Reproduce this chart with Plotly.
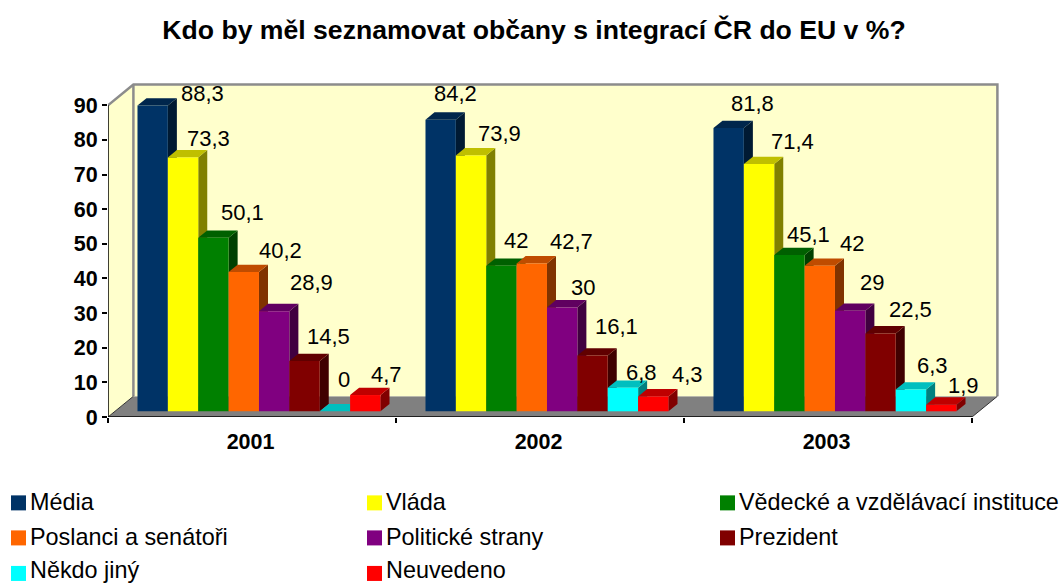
import plotly.graph_objects as go

# ---------- data ----------
TITLE = "Kdo by měl seznamovat občany s integrací ČR do EU v %?"
YEARS = ["2001", "2002", "2003"]
SERIES = ["Média", "Vláda", "Vědecké a vzdělávací instituce", "Poslanci a senátoři",
          "Politické strany", "Prezident", "Někdo jiný", "Neuvedeno"]
MEDIA = [88.3, 84.2, 81.8]
VLADA = [73.3, 73.9, 71.4]
VEDECKE = [50.1, 42, 45.1]
POSLANCI = [40.2, 42.7, 42]
STRANY = [28.9, 30, 29]
PREZIDENT = [14.5, 16.1, 22.5]
NEKDO = [0, 6.8, 6.3]
NEUVEDENO = [4.7, 4.3, 1.9]
VALUES = [MEDIA, VLADA, VEDECKE, POSLANCI, STRANY, PREZIDENT, NEKDO, NEUVEDENO]
Y_TICKS = [0, 10, 20, 30, 40, 50, 60, 70, 80, 90]

# ---------- style ----------
COLORS = ["#003366", "#FFFF00", "#008000", "#FF6600", "#800080", "#800000", "#00FFFF", "#FF0000"]
WALL = "#FFFFCC"
FLOOR = "#808080"
FONT = "Liberation Sans"

# label offsets from bar-top centre, px (per series, per year)
LABEL_DX = [[50, 15, 24], [25, 28, 33], [29.5, 14.5, 19.5], [37, 40, 32],
            [37, 21, 22], [24, 24, 30], [9, 19, 22], [21.5, 34.5, 22.5]]
LABEL_DY = [[12.5, 26, 25], [19, 22, 23], [25, 25, 21], [22, 22, 22],
            [29, 20, 28], [25, 29, 24], [32, 15.5, 24], [21, 22, 19]]

# plot geometry, px
W, H = 1062, 583
LEFT, RIGHT_EDGE, TOP_EDGE, ZERO_Y = 108, 1000, 80, 416.7
PX_X, PX_Y = 288.0, 3.46          # px per category, px per value unit
DEPTH_X = 25.4 / PX_X             # chart depth in data units
DEPTH_Y = 20.7 / PX_Y
BAR_FRONT, BAR_BACK = 0.275, 0.63 # depth fractions of the bar block
GAP = 45 / PX_X
YMAX_AXIS = 90
x_range = [0, (RIGHT_EDGE - LEFT) / PX_X]
y_range = [0, (ZERO_Y - TOP_EDGE) / PX_Y]
n_cat, n_ser = len(YEARS), len(SERIES)


def shade(hex_color, k):
    r, g, b = (int(hex_color[i:i + 2], 16) for i in (1, 3, 5))
    return f"rgb({round(r * k)},{round(g * k)},{round(b * k)})"


def project(x, y, d):
    return x + d * DEPTH_X, y + d * DEPTH_Y


def poly(points, color):
    xs = [p[0] for p in points] + [points[0][0]]
    ys = [p[1] for p in points] + [points[0][1]]
    return go.Scatter(x=xs, y=ys, mode="lines", fill="toself", fillcolor=color,
                      line=dict(width=0, color=color), hoverinfo="skip",
                      showlegend=False, cliponaxis=False)


def stroke(points, color, width):
    return go.Scatter(x=[p[0] for p in points], y=[p[1] for p in points], mode="lines",
                      line=dict(width=width, color=color), hoverinfo="skip",
                      showlegend=False, cliponaxis=False)


fig = go.Figure()

# walls and floor
fig.add_trace(poly([project(0, 0, 0), project(n_cat, 0, 0), project(n_cat, 0, 1), project(0, 0, 1)], FLOOR))
fig.add_trace(poly([project(0, 0, 0), project(0, 0, 1), project(0, YMAX_AXIS, 1), project(0, YMAX_AXIS, 0)], WALL))
fig.add_trace(poly([project(0, 0, 1), project(n_cat, 0, 1), project(n_cat, YMAX_AXIS, 1), project(0, YMAX_AXIS, 1)], WALL))
fig.add_trace(stroke([project(0, YMAX_AXIS, 0), project(0, YMAX_AXIS, 1), project(n_cat, YMAX_AXIS, 1),
                      project(n_cat, 0, 1)], "#8C8C8C", 2.5))
fig.add_trace(stroke([project(0, 0, 1), project(0, YMAX_AXIS, 1)], "#8C8C8C", 2.5))
fig.add_trace(stroke([project(0, 0, 0), project(0, 0, 1)], "#333333", 1))
fig.add_trace(stroke([project(n_cat, 0, 0), project(n_cat, 0, 1)], "#333333", 1))

# axis lines
fig.add_trace(stroke([(0, YMAX_AXIS), (0, 0), (n_cat, 0)], "black", 1.5))

bar_w = (1 - GAP) / n_ser
base = BAR_FRONT * 20.7 / PX_Y
centre_shift = BAR_FRONT * DEPTH_X

annotations = []
# side and top faces, painted left to right
for g in range(n_cat):
    for s in range(n_ser):
        v = VALUES[s][g]
        cx = g + 0.5 + centre_shift + (s - (n_ser - 1) / 2) * bar_w
        x0, x1 = cx - bar_w / 2, cx + bar_w / 2
        top = base + v
        dd = BAR_BACK - BAR_FRONT
        fig.add_trace(poly([(x1, base), project(x1, base, dd), project(x1, top, dd), (x1, top)],
                           shade(COLORS[s], 0.5)))
        fig.add_trace(poly([(x0, top), (x1, top), project(x1, top, dd), project(x0, top, dd)],
                           shade(COLORS[s], 0.75)))
        text = str(v).replace(".", ",")
        annotations.append(dict(x=cx, y=top, xref="x", yref="y", text=text, showarrow=False,
                                xanchor="center", yanchor="middle",
                                xshift=LABEL_DX[s][g], yshift=LABEL_DY[s][g],
                                font=dict(family=FONT, size=22, color="black")))

# front faces: real bars on an overlaid subplot so they sit above the side faces
for s in range(n_ser):
    fig.add_trace(go.Bar(x=[g + 0.5 + centre_shift for g in range(n_cat)], y=VALUES[s], base=base,
                         name=SERIES[s], marker=dict(color=COLORS[s], line=dict(width=0)),
                         xaxis="x2", yaxis="y2", showlegend=False))

# legend, three columns
LEG_COLS = [11, 367, 720]
LEG_ROWS = [502.5, 537.5, 573]
LEG_TEXT_ROWS = [501.5, 536.5, 569.5]
shapes = []
for s in range(n_ser):
    col, row = s % 3, s // 3
    lx, ly = LEG_COLS[col], LEG_ROWS[row]
    shapes.append(dict(type="rect", xref="paper", yref="paper", layer="above",
                       x0=(lx - LEFT) / (RIGHT_EDGE - LEFT), x1=(lx + 15 - LEFT) / (RIGHT_EDGE - LEFT),
                       y0=(ZERO_Y - (ly + 7.5)) / (ZERO_Y - TOP_EDGE), y1=(ZERO_Y - (ly - 7.5)) / (ZERO_Y - TOP_EDGE),
                       fillcolor=COLORS[s], line=dict(width=0)))
    annotations.append(dict(x=(lx + 19 - LEFT) / (RIGHT_EDGE - LEFT),
                            y=(ZERO_Y - LEG_TEXT_ROWS[row]) / (ZERO_Y - TOP_EDGE),
                            xref="paper", yref="paper", text=SERIES[s], showarrow=False,
                            xanchor="left", yanchor="middle", borderpad=0, borderwidth=0,
                            font=dict(family=FONT, size=23.4, color="black")))

fig.update_layout(
    width=W, height=H, autosize=False,
    margin=dict(l=LEFT, r=W - RIGHT_EDGE, t=TOP_EDGE, b=H - ZERO_Y, pad=0),
    paper_bgcolor="white", plot_bgcolor="rgba(0,0,0,0)",
    barmode="group", bargap=GAP, bargroupgap=0, showlegend=False,
    title=dict(text="<b>" + TITLE + "</b>", x=534 / W, y=1 - 30 / H, xanchor="center", yanchor="middle",
               font=dict(family=FONT, size=26.6, color="black")),
    xaxis=dict(range=x_range, tickmode="array", tickvals=[g + 0.495 for g in range(n_cat)],
               ticktext=["<b>" + y + "</b>" for y in YEARS], ticks="", showgrid=False, zeroline=False,
               showline=False, ticklabelstandoff=9,
               tickfont=dict(family=FONT, size=21.5, color="black"),
               minor=dict(tickmode="array", tickvals=list(range(n_cat + 1)), ticks="outside",
                          ticklen=5, tickwidth=1.5, tickcolor="black", showgrid=False)),
    yaxis=dict(range=y_range, tickmode="array", tickvals=Y_TICKS,
               ticktext=["<b>" + str(t) + "</b>" for t in Y_TICKS], ticks="outside", ticklen=5, tickwidth=1.5,
               tickcolor="black", showgrid=False, zeroline=False, showline=False,
               tickfont=dict(family=FONT, size=21.5, color="black")),
    xaxis2=dict(range=x_range, overlaying="x", visible=False),
    yaxis2=dict(range=y_range, overlaying="y", visible=False),
    annotations=annotations, shapes=shapes,
)

fig.write_html("out.html", post_script="document.body.style.margin='0';",
               config=dict(displayModeBar=False))
